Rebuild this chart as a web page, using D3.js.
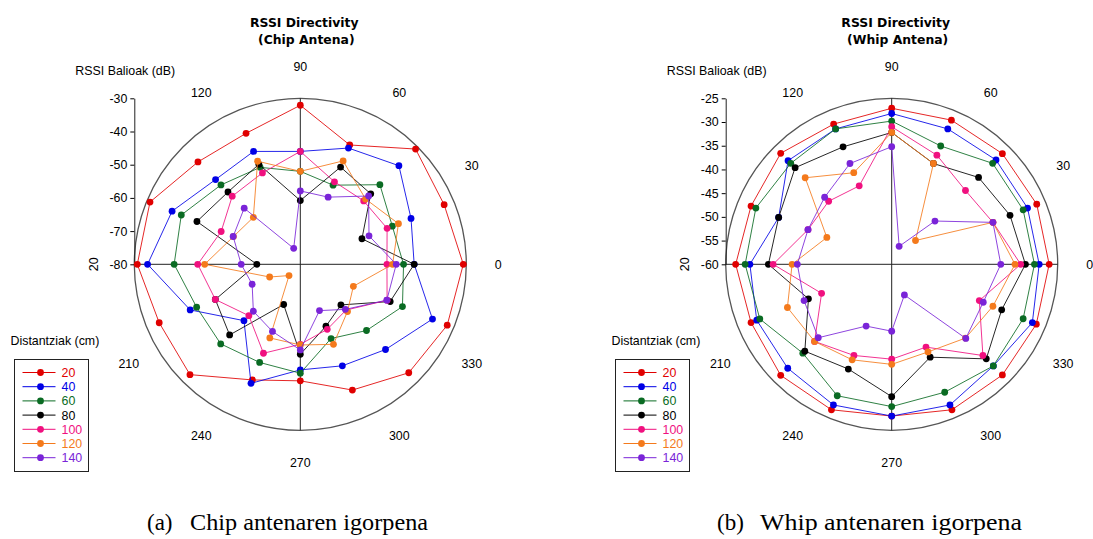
<!DOCTYPE html>
<html>
<head>
<meta charset="utf-8">
<script src="https://cdn.jsdelivr.net/npm/d3@7"></script>
<style>
  body { margin: 0; background: #fff; }
  svg { display: block; }
  .lbl { font-family: "Liberation Sans", Arial, sans-serif; font-size: 12.4px; fill: #000; }
  .ttl { font-family: "DejaVu Sans", Verdana, sans-serif; font-size: 12.4px; font-weight: bold; }
  .cap { font-family: "Liberation Serif", "DejaVu Serif", serif; font-size: 23px; }
</style>
</head>
<body>
<svg id="chart" width="1093" height="539"></svg>
<script>
// angles of the measurements (deg)
var angles = [0, 22.5, 45, 67.5, 90, 112.5, 135, 157.5, 180, 202.5, 225, 247.5, 270, 292.5, 315, 337.5];
var distances = ["20", "40", "60", "80", "100", "120", "140"];
var colors = ["#e00000", "#0000e6", "#0a6b23", "#000000", "#f0107f", "#f47a1c", "#7a24d8"];

// chip antenna RSSI (dB)
var chip20 = [-30.9, -33.1, -30.9, -41.1, -32.1, -37.3, -36.4, -31.0, -30.9, -34.0, -33.0, -42.3, -44.9, -39.0, -33.8, -32.1];
var chip40 = [-45.7, -43.9, -38.0, -42.1, -46.0, -43.2, -43.9, -38.2, -34.0, -44.1, -56.0, -41.2, -48.2, -46.9, -43.7, -36.9];
var chip60 = [-48.9, -50.0, -46.1, -54.2, -52.0, -48.4, -46.2, -41.2, -42.0, -46.2, -46.1, -48.0, -47.2, -55.8, -51.8, -46.7];
var chip80 = [-45.7, -59.9, -50.0, -48.3, -60.8, -47.4, -49.2, -46.3, -66.9, -52.3, -49.9, -66.9, -52.9, -59.8, -62.7, -50.7];
var chip100 = [-53.9, -51.7, -53.0, -53.1, -46.0, -50.2, -51.0, -54.2, -49.1, -52.3, -58.1, -51.0, -55.9, -58.8, -60.5, -51.7];
var chip120 = [-52.2, -48.0, -52.2, -46.3, -52.0, -46.4, -60.0, -58.2, -51.2, -70.0, -75.2, -56.0, -55.7, -53.9, -59.9, -62.7];
var chip140 = [-51.1, -57.6, -50.9, -58.1, -57.9, -74.8, -56.1, -58.1, -62.2, -64.3, -60.0, -58.1, -54.2, -64.9, -60.8, -51.8];

// whip antenna RSSI (dB)
var whip20 = [-26.8, -26.9, -27.0, -27.1, -27.1, -28.0, -26.9, -27.9, -27.1, -27.9, -26.9, -26.8, -28.0, -26.8, -27.0, -27.0];
var whip40 = [-28.9, -29.0, -28.9, -29.1, -28.2, -29.1, -29.1, -34.2, -30.1, -29.2, -29.0, -27.9, -28.0, -27.9, -29.7, -27.9];
var whip60 = [-29.9, -30.0, -29.9, -33.0, -29.8, -29.1, -29.9, -29.0, -29.1, -29.9, -33.5, -30.0, -30.0, -30.8, -29.7, -30.0];
var whip80 = [-31.8, -33.0, -34.1, -37.0, -32.2, -33.2, -31.2, -34.2, -34.0, -41.0, -34.1, -36.1, -32.1, -38.8, -31.8, -34.9];
var whip100 = [-32.8, -36.9, -38.0, -35.1, -31.0, -42.1, -41.2, -40.9, -35.0, -44.0, -37.0, -39.2, -40.0, -41.1, -32.8, -40.0];
var whip120 = [-34.0, -36.9, -52.9, -37.0, -32.2, -39.1, -34.2, -45.2, -39.0, -36.2, -37.0, -38.2, -38.9, -40.0, -38.0, -36.9];
var whip140 = [-37.0, -36.9, -47.1, -55.9, -35.2, -37.0, -40.0, -40.9, -40.1, -40.0, -38.1, -45.9, -45.9, -53.0, -37.9, -39.1];

var chipTicks = [-30, -40, -50, -60, -70, -80];
var whipTicks = [-25, -30, -35, -40, -45, -50, -55, -60];
var angleTicks = [0, 30, 60, 90, 120, 180, 210, 240, 270, 300, 330];
var angleTickText = ["0", "30", "60", "90", "120", "20", "210", "240", "270", "300", "330"];

var svg = d3.select("#chart");
svg.append("rect").attr("width", 1093).attr("height", 539).attr("fill", "#fff");

function drawPolar(cx, cy, R, domain, ticks, subtitle, series, legendX, capTag, capText, capX, capW) {
  var g = svg.append("g");
  var r = d3.scaleLinear().domain(domain).range([0, R]);
  var toRad = function (d) { return (90 - d) * Math.PI / 180; };

  // outer ring + cross axes
  g.append("circle").attr("cx", cx).attr("cy", cy).attr("r", R)
    .attr("fill", "none").attr("stroke", "#555").attr("stroke-width", 1.3);
  g.append("line").attr("x1", cx - R).attr("x2", cx + R).attr("y1", cy).attr("y2", cy)
    .attr("stroke", "#222").attr("stroke-width", 1);
  g.append("line").attr("x1", cx).attr("x2", cx).attr("y1", cy - R).attr("y2", cy + R)
    .attr("stroke", "#222").attr("stroke-width", 1);

  // radial value axis on the left
  var y = d3.scaleLinear().domain(domain).range([cy, cy - R]);
  var ax = g.append("g").attr("transform", "translate(" + (cx - R) + ",0)")
    .call(d3.axisLeft(y).tickValues(ticks).tickSize(4).tickSizeOuter(0).tickPadding(3)
      .tickFormat(function (d) { return String(d); }));
  ax.selectAll("text").attr("class", "lbl").attr("font-family", null).attr("font-size", null);
  ax.select(".domain").attr("stroke", "#222");

  // angle labels
  angleTicks.forEach(function (a, i) {
    var rad = a * Math.PI / 180;
    var rr = a === 180 ? 207 : 198;
    var x = cx + rr * Math.cos(rad), yy = cy - rr * Math.sin(rad);
    var t = g.append("text").attr("class", "lbl").attr("text-anchor", "middle")
      .attr("x", x).attr("y", yy).attr("dy", "0.35em").text(angleTickText[i]);
    if (a === 180) t.attr("transform", "rotate(-90," + x + "," + yy + ")");
  });

  // titles
  g.append("text").attr("class", "ttl").attr("text-anchor", "middle")
    .attr("x", cx + 4).attr("y", 27).text("RSSI Directivity");
  g.append("text").attr("class", "ttl").attr("text-anchor", "middle")
    .attr("x", cx + 6).attr("y", 44).text(subtitle);
  g.append("text").attr("class", "lbl").attr("x", cx - 225).attr("y", 75).text("RSSI Balioak (dB)");

  // series
  series.forEach(function (vals, k) {
    var sg = g.append("g").attr("transform", "translate(" + cx + "," + cy + ")");
    sg.append("path").attr("d", d3.lineRadial()
        .angle(function (d, i) { return toRad(angles[i]); })
        .radius(function (d) { return r(d); })
        .curve(d3.curveLinearClosed)(vals))
      .attr("fill", "none").attr("stroke", colors[k]).attr("stroke-width", 1).attr("stroke-opacity", 0.85);
    sg.selectAll("circle").data(vals).enter().append("circle")
      .attr("cx", function (d, i) { return r(d) * Math.cos(angles[i] * Math.PI / 180); })
      .attr("cy", function (d, i) { return -r(d) * Math.sin(angles[i] * Math.PI / 180); })
      .attr("r", 3.4).attr("fill", colors[k]);
  });

  // legend
  g.append("text").attr("class", "lbl").attr("x", legendX - 4).attr("y", 345).text("Distantziak (cm)");
  g.append("rect").attr("x", legendX).attr("y", 359.5).attr("width", 74).attr("height", 112)
    .attr("fill", "none").attr("stroke", "#222").attr("stroke-width", 1);
  distances.forEach(function (d, i) {
    var yy = 372.5 + i * 14.2;
    g.append("line").attr("x1", legendX + 8).attr("x2", legendX + 41).attr("y1", yy).attr("y2", yy)
      .attr("stroke", colors[i]).attr("stroke-width", 1);
    g.append("circle").attr("cx", legendX + 26).attr("cy", yy).attr("r", 3.4).attr("fill", colors[i]);
    g.append("text").attr("class", "lbl").attr("x", legendX + 47).attr("y", yy).attr("dy", "0.36em")
      .style("fill", colors[i]).text(d);
  });

  // sub-figure caption
  svg.append("text").attr("class", "cap").attr("x", capX).attr("y", 530).text(capTag);
  svg.append("text").attr("class", "cap").attr("x", capX + 43).attr("y", 530)
    .attr("textLength", capW).attr("lengthAdjust", "spacingAndGlyphs").text(capText);
}

drawPolar(300.3, 264.3, 166, [-80, -30], chipTicks, "(Chip Antena)",
  [chip20, chip40, chip60, chip80, chip100, chip120, chip140], 14.5,
  "(a)", "Chip antenaren igorpena", 147, 238);
drawPolar(891.7, 264.3, 166, [-60, -25], whipTicks, "(Whip Antena)",
  [whip20, whip40, whip60, whip80, whip100, whip120, whip140], 615.5,
  "(b)", "Whip antenaren igorpena", 717, 262);
</script>
</body>
</html>
